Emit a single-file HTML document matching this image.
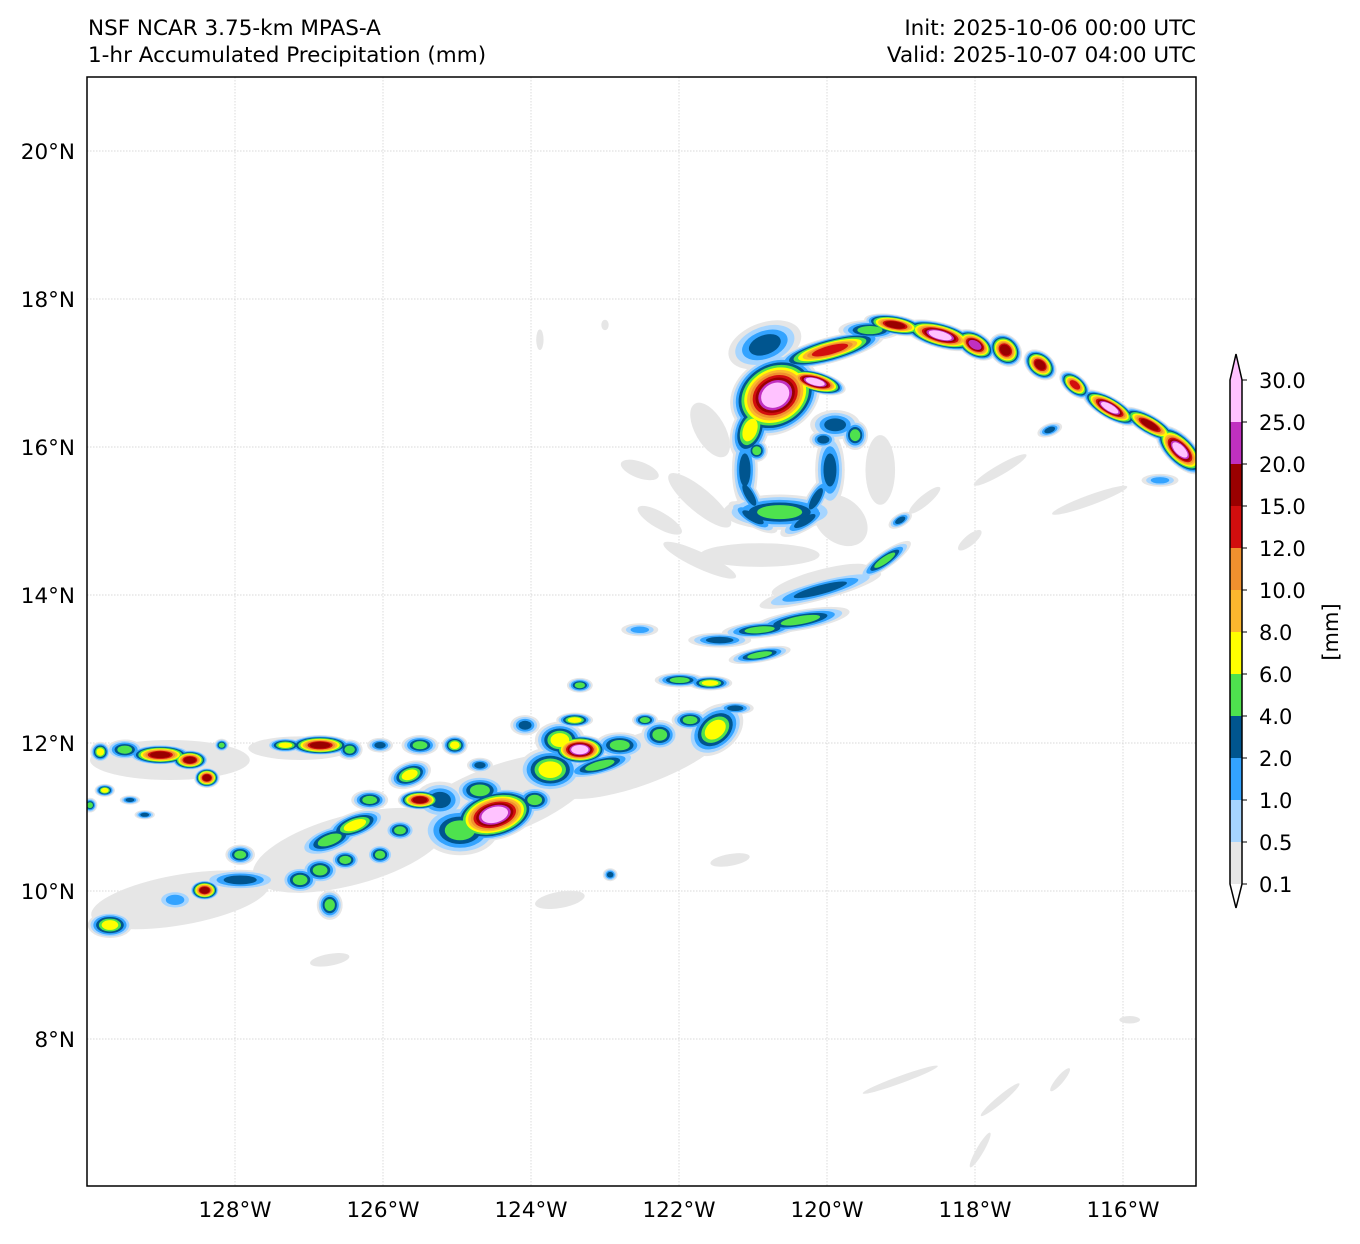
<!DOCTYPE html>
<html><head><meta charset="utf-8"><style>
body{margin:0;background:#fff;font-family:"Liberation Sans","DejaVu Sans",sans-serif;}
svg text{font-family:"DejaVu Sans","Liberation Sans",sans-serif;}
</style></head><body>
<svg id="chart" width="1360" height="1239" xmlns="http://www.w3.org/2000/svg">
<rect width="1360" height="1239" fill="#fff"/>
<text x="88" y="35" font-size="21.5">NSF NCAR 3.75-km MPAS-A</text>
<text x="88" y="62" font-size="21.5">1-hr Accumulated Precipitation (mm)</text>
<text x="1196" y="35" font-size="21.5" text-anchor="end">Init: 2025-10-06 00:00 UTC</text>
<text x="1196" y="62" font-size="21.5" text-anchor="end">Valid: 2025-10-07 04:00 UTC</text>
<defs><clipPath id="plotclip"><rect x="87" y="77" width="1109" height="1109"/></clipPath></defs>
<g id="grid"></g>
<g id="cells" clip-path="url(#plotclip)"></g>
<rect x="87" y="77" width="1109" height="1109" fill="none" stroke="#000" stroke-width="1.5"/>
<g id="axes"></g>
<g id="cbar"></g>
</svg>
<script>
const lonTicks=[-128,-126,-124,-122,-120,-118,-116];
const latTicks=[20,18,16,14,12,10,8];
const levels=[0.1,0.5,1,2,4,6,8,10,12,15,20,25,30];
const levelColors=["#e6e6e6","#a6d5ff","#33a3ff","#00558f","#4ee24e","#ffff00","#fcb72e","#f0902e","#d20e0e","#9a0000","#c030c0","#ffc2ff"];
const cellLon=[-120.84,-119.96,-119.42,-119.08,-118.47,-118.0,-117.59,-117.12,-116.65,-116.18,-115.64,-115.23,
-120.70,-120.16,-121.04,-120.64,-119.96,-121.11,-119.89,-119.62,
-121.58,-121.72,-120.91,-119.82,-119.28,-122.53,-122.26,-121.72,-120.09,
-119.22,-120.09,-120.36,-120.91,-121.45,-120.91,-122.53,-121.99,-121.58,-121.24,-123.34,
-121.51,-121.85,-122.26,-122.46,-122.8,-123.34,-123.61,-123.74,-123.95,-123.07,-123.41,-124.08,-124.49,-124.69,-124.96,-125.23,-125.64,-125.5,-125.77,-126.04,-126.38,-126.72,-126.85,-126.51,-127.12,-126.72,-127.93,-128.41,-128.81,-129.69,-127.93,-126.18,-126.04,-125.5,-125.03,-124.69,
-122.53,-124.42,-126.45,-128.74,
-129.82,-129.49,-129.01,-128.61,-128.38,-128.18,-129.76,-129.42,-129.22,-129.96,-127.32,-126.85,-126.45,-128.88,-127.12,
-118.68,-119.01,-116.99,-117.66,-118.07,-115.5,-116.45,-121.31,-122.93,-123.61,-126.72,-119.01,-117.66,-116.85,-117.93,-115.91,-123.88,-123.0,
-121.05,-120.95,-120.15,-120.05,-121.0,-120.3];
const cellLat=[17.38,17.31,17.58,17.65,17.51,17.38,17.31,17.11,16.84,16.53,16.30,15.96,
16.70,16.88,16.23,15.12,15.69,15.69,16.30,16.16,
16.23,15.28,14.54,15.01,15.69,15.69,15.01,14.47,14.20,
14.47,14.07,13.66,13.53,13.39,13.19,13.53,12.85,12.81,12.47,12.78,
12.18,12.31,12.11,12.31,11.97,11.91,12.04,11.64,11.23,11.70,12.31,12.24,11.03,11.36,10.82,11.23,11.57,11.23,10.82,10.49,10.89,10.69,10.28,10.42,10.15,9.81,10.15,10.01,9.88,9.54,10.49,11.23,11.97,11.97,11.97,11.70,
11.77,11.23,10.55,9.88,
11.88,11.91,11.84,11.77,11.53,11.97,11.36,11.23,11.03,11.16,11.97,11.97,11.91,11.77,11.93,
15.28,15.01,16.23,15.69,14.74,15.55,15.28,10.42,10.22,9.88,9.07,7.45,7.18,7.45,6.5,8.26,17.45,17.65,
15.35,15.95,15.3,16.1,15.05,15.0];
const cellPeak=[2,12,5,15,25,20,15,15,12,25,15,30,
30,25,6,4,2,2,2,4,
0.1,0.1,0.1,0.1,0.1,0.1,0.1,0.1,0.1,
4,2,4,4,2,4,1,4,6,2,4,
6,4,4,4,4,30,6,6,4,4,6,2,25,4,4,2,6,15,4,4,6,4,4,4,4,4,2,15,1,6,4,4,2,4,6,2,
0.1,0.1,0.1,0.1,
6,4,15,15,15,4,6,2,2,4,6,15,4,0.1,0.1,
0.1,2,2,0.1,0.1,1,0.1,0.1,2,0.1,0.1,0.1,0.1,0.1,0.1,0.1,0.1,0.1,
2,4,2,2,2,2];
const cellRx=[0.41,0.61,0.34,0.34,0.41,0.24,0.2,0.2,0.2,0.34,0.34,0.34,
0.51,0.34,0.2,0.61,0.16,0.14,0.27,0.14,
0.41,0.54,0.81,0.41,0.2,0.27,0.34,0.54,0.68,
0.34,0.68,0.54,0.41,0.34,0.34,0.2,0.27,0.24,0.2,0.14,
0.34,0.2,0.2,0.14,0.27,0.3,0.27,0.34,0.2,0.41,0.2,0.16,0.47,0.27,0.41,0.27,0.24,0.24,0.16,0.14,0.34,0.34,0.2,0.16,0.2,0.14,0.41,0.16,0.2,0.24,0.16,0.2,0.14,0.2,0.14,0.14,
1.22,1.35,1.35,1.22,
0.11,0.2,0.34,0.2,0.14,0.08,0.11,0.11,0.11,0.08,0.2,0.34,0.14,1.08,0.7,
0.27,0.14,0.14,0.41,0.2,0.2,0.54,0.27,0.08,0.34,0.27,0.54,0.34,0.2,0.27,0.14,0.05,0.05,
0.3,0.12,0.3,0.15,0.3,0.3];
const cellRy=[0.24,0.14,0.11,0.11,0.14,0.14,0.16,0.14,0.11,0.12,0.11,0.16,
0.41,0.12,0.34,0.19,0.41,0.41,0.16,0.16,
0.2,0.16,0.16,0.3,0.47,0.11,0.11,0.11,0.14,
0.09,0.11,0.11,0.09,0.08,0.08,0.07,0.08,0.08,0.07,0.08,
0.24,0.11,0.16,0.08,0.14,0.16,0.2,0.24,0.14,0.11,0.08,0.11,0.27,0.16,0.27,0.2,0.14,0.11,0.11,0.11,0.14,0.14,0.14,0.11,0.14,0.16,0.11,0.11,0.11,0.14,0.11,0.11,0.08,0.11,0.11,0.08,
0.34,0.47,0.47,0.34,
0.11,0.11,0.11,0.11,0.11,0.07,0.07,0.05,0.05,0.08,0.08,0.11,0.11,0.27,0.16,
0.07,0.07,0.07,0.07,0.07,0.07,0.07,0.08,0.07,0.11,0.08,0.05,0.05,0.05,0.05,0.05,0.14,0.07,
0.1,0.12,0.1,0.1,0.1,0.1];
const cellAngle=[-20,-15,0,10,15,30,45,40,40,30,30,45,
-30,15,20,0,0,0,0,0,
60,40,0,40,0,20,30,25,-15,
-35,-15,-10,-5,0,-10,0,0,0,0,0,
-40,0,0,0,0,0,0,0,0,-15,0,0,-15,0,0,0,-20,0,0,0,-20,-20,0,0,0,0,0,0,0,0,0,0,0,0,0,0,
-20,-20,-15,-10,
0,0,0,0,0,0,0,0,0,0,0,0,0,0,0,
-40,-30,-20,-30,-40,0,-20,-10,0,-10,-10,-20,-40,-50,-60,0,0,0,
60,0,-60,0,30,-30];

const NS="http://www.w3.org/2000/svg";
const X0=87,Y0=77,PPD=74,LON0=-130,LAT0=21;
function xScale(lon){return X0+(lon-LON0)*PPD;}
function yScale(lat){return Y0+(LAT0-lat)*PPD;}
function mk(tag,attrs,parent){const e=document.createElementNS(NS,tag);for(const k in attrs)e.setAttribute(k,attrs[k]);parent.appendChild(e);return e;}

const grid=document.getElementById('grid'),axes=document.getElementById('axes');
lonTicks.forEach(lon=>{const x=xScale(lon);
 const l=mk('line',{x1:x,x2:x,y1:77,y2:1186,stroke:'#ccc','stroke-width':0.7,'stroke-dasharray':'1.5,1.5'},grid);
 
 
 const t=mk('text',{x:x,y:1217,'font-size':21.5,'text-anchor':'middle'},axes);t.textContent=Math.abs(lon)+'°W';
 
 
});
latTicks.forEach(lat=>{const y=yScale(lat);
 const l=mk('line',{x1:87,x2:1196,y1:y,y2:y,stroke:'#ccc','stroke-width':0.7,'stroke-dasharray':'1.5,1.5'},grid);
 
 
 const t=mk('text',{x:75,y:y+8,'font-size':21.5,'text-anchor':'end'},axes);t.textContent=lat+'°N';
 
 
});

const cg=document.getElementById('cells');
function nLevels(p){let n=0;for(let i=0;i<12;i++){if(p>=levels[i])n=i+1;}return Math.max(1,n);}
const ns=cellPeak.map(nLevels);
for(let k=0;k<12;k++){
 for(let i=0;i<cellLon.length;i++){
  const n=ns[i];if(k>=n)continue;
  const grow=n>1?1.25:1;
  const s=grow*(1-0.75*k/n);
  const cx=xScale(cellLon[i]),cy=yScale(cellLat[i]);
  const e=mk('ellipse',{cx:cx,cy:cy,rx:cellRx[i]*PPD*s,ry:cellRy[i]*PPD*s,fill:levelColors[k],transform:`rotate(${cellAngle[i]} ${cx} ${cy})`},cg);
  
  
 }
}

// colorbar
const cb=document.getElementById('cbar');
const cbX=1230,cbW=12,cbTop=380,cbStep=42;
for(let i=0;i<12;i++){
 const yb=cbTop+(12-i)*cbStep;
 const r=mk('rect',{x:cbX,y:yb-cbStep,width:cbW,height:cbStep,fill:levelColors[i]},cb);
 
 
}
const triTop=mk('polygon',{points:`${cbX},${cbTop} ${cbX+cbW/2},${cbTop-26} ${cbX+cbW},${cbTop}`,fill:levelColors[11]},cb);


const cbBot=cbTop+12*cbStep;
const triBot=mk('polygon',{points:`${cbX},${cbBot} ${cbX+cbW/2},${cbBot+24} ${cbX+cbW},${cbBot}`,fill:'#fff'},cb);


const ol=mk('polygon',{points:`${cbX},${cbTop} ${cbX+cbW/2},${cbTop-26} ${cbX+cbW},${cbTop} ${cbX+cbW},${cbBot} ${cbX+cbW/2},${cbBot+24} ${cbX},${cbBot}`,fill:'none',stroke:'#000','stroke-width':1.5},cb);


levels.forEach((v,i)=>{
 const y=cbTop+(12-i)*cbStep;
 mk('line',{x1:cbX+cbW,x2:cbX+cbW+5,y1:y,y2:y,stroke:'#000','stroke-width':1},cb);
 const t=mk('text',{x:1259,y:y+8,'font-size':21},cb);t.textContent=v.toFixed(1);
 
 
});
const ct=mk('text',{x:1338,y:632,'font-size':21,'text-anchor':'middle',transform:'rotate(-90 1338 632)'},cb);
ct.textContent='[mm]';


</script>
</body></html>
